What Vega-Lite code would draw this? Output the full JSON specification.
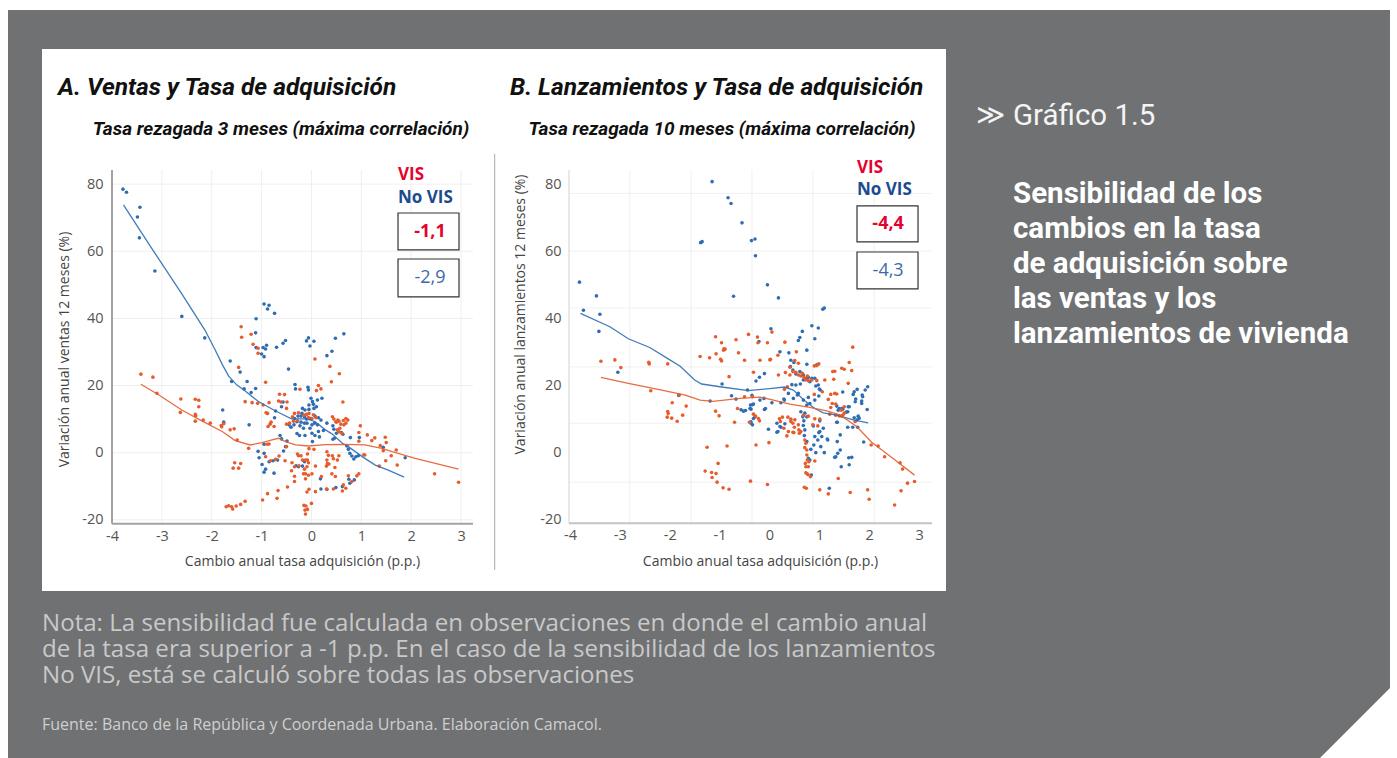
{
 "$schema": "https://vega.github.io/schema/vega-lite/v6.json",
 "background": "#ffffff",
 "padding": {"left": 8, "top": 10, "right": 7, "bottom": 0},
 "autosize": {"type": "pad"},
 "config": {"view": {"stroke": null}, "font": "Roboto"},
 "datasets": {
  "ventas": [
   {"x":-3.78,"y":78.5,"g":"No VIS"},{"x":-3.71,"y":77.6,"g":"No VIS"},{"x":-3.44,"y":73.1,"g":"No VIS"},{"x":-3.49,"y":70.2,"g":"No VIS"},{"x":-3.45,"y":64.0,"g":"No VIS"},{"x":-3.14,"y":54.1,"g":"No VIS"},{"x":-2.60,"y":40.6,"g":"No VIS"},{"x":-2.14,"y":34.2,"g":"No VIS"},{"x":-1.63,"y":27.3,"g":"No VIS"},{"x":-1.43,"y":24.0,"g":"No VIS"},
   {"x":-0.95,"y":44.3,"g":"No VIS"},{"x":-0.85,"y":43.9,"g":"No VIS"},{"x":-0.88,"y":42.8,"g":"No VIS"},{"x":-0.74,"y":41.5,"g":"No VIS"},{"x":-1.11,"y":39.9,"g":"No VIS"},{"x":-1.12,"y":35.7,"g":"No VIS"},{"x":-1.11,"y":31.3,"g":"No VIS"},{"x":-1.00,"y":29.4,"g":"No VIS"},{"x":-0.95,"y":28.6,"g":"No VIS"},{"x":-0.97,"y":31.3,"g":"No VIS"},
   {"x":-0.90,"y":32.0,"g":"No VIS"},{"x":-0.92,"y":30.9,"g":"No VIS"},{"x":-0.70,"y":31.4,"g":"No VIS"},{"x":-0.57,"y":32.6,"g":"No VIS"},{"x":-0.52,"y":33.4,"g":"No VIS"},{"x":-0.46,"y":24.9,"g":"No VIS"},{"x":-0.10,"y":33.3,"g":"No VIS"},{"x":-0.06,"y":34.2,"g":"No VIS"},{"x":0.05,"y":33.2,"g":"No VIS"},{"x":-0.03,"y":31.8,"g":"No VIS"},
   {"x":0.31,"y":28.9,"g":"No VIS"},{"x":0.41,"y":30.2,"g":"No VIS"},{"x":0.48,"y":34.1,"g":"No VIS"},{"x":0.65,"y":35.4,"g":"No VIS"},{"x":-1.60,"y":21.2,"g":"No VIS"},{"x":-1.29,"y":21.2,"g":"No VIS"},{"x":-1.35,"y":19.0,"g":"No VIS"},{"x":-1.21,"y":17.9,"g":"No VIS"},{"x":-1.12,"y":19.1,"g":"No VIS"},{"x":-1.78,"y":12.7,"g":"No VIS"},
   {"x":-1.76,"y":9.1,"g":"No VIS"},{"x":-1.25,"y":8.3,"g":"No VIS"},{"x":-0.33,"y":20.3,"g":"No VIS"},{"x":-0.32,"y":19.0,"g":"No VIS"},{"x":-0.07,"y":19.5,"g":"No VIS"},{"x":-0.06,"y":18.7,"g":"No VIS"},{"x":-0.57,"y":15.1,"g":"No VIS"},{"x":-0.60,"y":13.7,"g":"No VIS"},{"x":-0.72,"y":12.4,"g":"No VIS"},{"x":-0.74,"y":10.4,"g":"No VIS"},
   {"x":-0.01,"y":16.2,"g":"No VIS"},{"x":0.02,"y":15.2,"g":"No VIS"},{"x":-0.05,"y":14.2,"g":"No VIS"},{"x":0.04,"y":14.4,"g":"No VIS"},{"x":0.12,"y":15.7,"g":"No VIS"},{"x":0.21,"y":16.2,"g":"No VIS"},{"x":-0.18,"y":13.2,"g":"No VIS"},{"x":-0.13,"y":12.7,"g":"No VIS"},{"x":-0.05,"y":12.9,"g":"No VIS"},{"x":0.05,"y":13.2,"g":"No VIS"},
   {"x":0.10,"y":13.7,"g":"No VIS"},{"x":-0.19,"y":11.7,"g":"No VIS"},{"x":-0.21,"y":10.9,"g":"No VIS"},{"x":-0.14,"y":10.7,"g":"No VIS"},{"x":-0.10,"y":10.0,"g":"No VIS"},{"x":-0.02,"y":10.2,"g":"No VIS"},{"x":0.07,"y":10.9,"g":"No VIS"},{"x":0.14,"y":10.4,"g":"No VIS"},{"x":0.19,"y":9.7,"g":"No VIS"},{"x":-0.34,"y":10.2,"g":"No VIS"},
   {"x":-0.27,"y":10.9,"g":"No VIS"},{"x":-0.35,"y":8.3,"g":"No VIS"},{"x":-0.29,"y":9.2,"g":"No VIS"},{"x":-0.21,"y":9.1,"g":"No VIS"},{"x":-0.14,"y":8.8,"g":"No VIS"},{"x":-0.09,"y":8.8,"g":"No VIS"},{"x":0.01,"y":8.3,"g":"No VIS"},{"x":0.06,"y":8.8,"g":"No VIS"},{"x":0.12,"y":8.3,"g":"No VIS"},{"x":-0.03,"y":7.3,"g":"No VIS"},
   {"x":-0.16,"y":7.3,"g":"No VIS"},{"x":-0.23,"y":8.0,"g":"No VIS"},{"x":-0.41,"y":7.6,"g":"No VIS"},{"x":-0.13,"y":5.1,"g":"No VIS"},{"x":0.01,"y":5.8,"g":"No VIS"},{"x":0.07,"y":5.1,"g":"No VIS"},{"x":0.14,"y":6.3,"g":"No VIS"},{"x":0.24,"y":6.6,"g":"No VIS"},{"x":-0.24,"y":5.1,"g":"No VIS"},{"x":-0.29,"y":5.7,"g":"No VIS"},
   {"x":0.02,"y":3.3,"g":"No VIS"},{"x":0.16,"y":4.7,"g":"No VIS"},{"x":-0.45,"y":8.3,"g":"No VIS"},{"x":0.31,"y":8.8,"g":"No VIS"},{"x":0.43,"y":8.0,"g":"No VIS"},{"x":0.45,"y":7.0,"g":"No VIS"},{"x":0.50,"y":5.8,"g":"No VIS"},{"x":0.46,"y":4.3,"g":"No VIS"},{"x":0.60,"y":6.0,"g":"No VIS"},{"x":0.63,"y":5.5,"g":"No VIS"},
   {"x":0.78,"y":4.5,"g":"No VIS"},{"x":0.71,"y":2.0,"g":"No VIS"},{"x":0.74,"y":1.0,"g":"No VIS"},{"x":0.77,"y":-0.2,"g":"No VIS"},{"x":0.81,"y":-1.0,"g":"No VIS"},{"x":0.85,"y":-1.9,"g":"No VIS"},{"x":0.89,"y":-1.2,"g":"No VIS"},{"x":0.94,"y":-0.9,"g":"No VIS"},{"x":0.96,"y":4.5,"g":"No VIS"},{"x":1.44,"y":1.6,"g":"No VIS"},
   {"x":1.88,"y":-1.5,"g":"No VIS"},{"x":0.43,"y":4.0,"g":"No VIS"},{"x":0.75,"y":-7.9,"g":"No VIS"},{"x":0.77,"y":-9.1,"g":"No VIS"},{"x":0.86,"y":-8.1,"g":"No VIS"},{"x":0.62,"y":-10.1,"g":"No VIS"},{"x":0.49,"y":-10.4,"g":"No VIS"},{"x":0.31,"y":-10.9,"g":"No VIS"},{"x":0.19,"y":-10.8,"g":"No VIS"},{"x":0.18,"y":-7.8,"g":"No VIS"},
   {"x":-0.63,"y":5.1,"g":"No VIS"},{"x":-0.60,"y":4.1,"g":"No VIS"},{"x":-0.49,"y":3.5,"g":"No VIS"},{"x":-0.52,"y":1.8,"g":"No VIS"},{"x":-0.56,"y":0.5,"g":"No VIS"},{"x":-0.95,"y":2.5,"g":"No VIS"},{"x":-1.07,"y":0.4,"g":"No VIS"},{"x":-0.95,"y":-0.2,"g":"No VIS"},{"x":-1.05,"y":-1.5,"g":"No VIS"},{"x":-0.85,"y":-2.7,"g":"No VIS"},
   {"x":-0.77,"y":-2.4,"g":"No VIS"},{"x":-0.68,"y":-2.2,"g":"No VIS"},{"x":-0.99,"y":-3.5,"g":"No VIS"},{"x":-0.92,"y":-4.9,"g":"No VIS"},{"x":-0.95,"y":-5.8,"g":"No VIS"},{"x":-0.75,"y":-6.1,"g":"No VIS"},{"x":-0.31,"y":-3.9,"g":"No VIS"},{"x":-0.26,"y":-4.2,"g":"No VIS"},{"x":-0.18,"y":-4.0,"g":"No VIS"},{"x":-0.14,"y":-2.7,"g":"No VIS"},
   {"x":-1.41,"y":37.5,"g":"VIS"},{"x":-1.40,"y":34.4,"g":"VIS"},{"x":-1.21,"y":35.3,"g":"VIS"},{"x":-1.17,"y":32.3,"g":"VIS"},{"x":-1.07,"y":29.6,"g":"VIS"},{"x":-1.07,"y":31.1,"g":"VIS"},{"x":-1.46,"y":25.4,"g":"VIS"},{"x":0.07,"y":27.9,"g":"VIS"},{"x":0.37,"y":25.7,"g":"VIS"},{"x":0.56,"y":23.5,"g":"VIS"},
   {"x":-3.42,"y":23.4,"g":"VIS"},{"x":-3.18,"y":22.5,"g":"VIS"},{"x":-3.10,"y":17.7,"g":"VIS"},{"x":-2.62,"y":16.0,"g":"VIS"},{"x":-2.63,"y":12.0,"g":"VIS"},{"x":-2.33,"y":15.9,"g":"VIS"},{"x":-2.26,"y":15.6,"g":"VIS"},{"x":-2.26,"y":13.7,"g":"VIS"},{"x":-2.33,"y":11.4,"g":"VIS"},{"x":-2.32,"y":11.0,"g":"VIS"},
   {"x":-2.33,"y":9.4,"g":"VIS"},{"x":-2.17,"y":9.7,"g":"VIS"},{"x":-2.03,"y":8.8,"g":"VIS"},{"x":-1.81,"y":8.1,"g":"VIS"},{"x":-1.76,"y":8.6,"g":"VIS"},{"x":-1.63,"y":6.8,"g":"VIS"},{"x":-1.55,"y":7.1,"g":"VIS"},{"x":-1.49,"y":3.8,"g":"VIS"},{"x":-1.33,"y":15.2,"g":"VIS"},{"x":-1.19,"y":14.9,"g":"VIS"},
   {"x":-1.08,"y":14.7,"g":"VIS"},{"x":-0.97,"y":14.2,"g":"VIS"},{"x":-0.92,"y":21.0,"g":"VIS"},{"x":-0.85,"y":14.9,"g":"VIS"},{"x":-0.91,"y":11.9,"g":"VIS"},{"x":-0.81,"y":9.1,"g":"VIS"},{"x":-0.83,"y":8.5,"g":"VIS"},{"x":-0.66,"y":15.4,"g":"VIS"},{"x":-0.64,"y":17.4,"g":"VIS"},{"x":-0.54,"y":17.3,"g":"VIS"},
   {"x":-0.49,"y":15.1,"g":"VIS"},{"x":-0.44,"y":8.8,"g":"VIS"},{"x":-1.26,"y":1.3,"g":"VIS"},{"x":-0.89,"y":2.5,"g":"VIS"},{"x":-1.54,"y":-3.0,"g":"VIS"},{"x":-1.57,"y":-4.6,"g":"VIS"},{"x":-1.46,"y":-4.6,"g":"VIS"},{"x":-1.42,"y":-3.2,"g":"VIS"},{"x":-1.71,"y":-16.1,"g":"VIS"},{"x":-1.66,"y":-15.8,"g":"VIS"},
   {"x":-1.60,"y":-16.1,"g":"VIS"},{"x":-1.58,"y":-16.8,"g":"VIS"},{"x":-1.51,"y":-15.9,"g":"VIS"},{"x":-1.42,"y":-15.4,"g":"VIS"},{"x":-1.33,"y":-14.5,"g":"VIS"},{"x":-0.98,"y":-14.1,"g":"VIS"},{"x":-0.88,"y":-12.2,"g":"VIS"},{"x":-0.69,"y":-13.6,"g":"VIS"},{"x":-0.67,"y":-11.3,"g":"VIS"},{"x":-0.48,"y":-10.2,"g":"VIS"},
   {"x":-0.82,"y":-2.4,"g":"VIS"},{"x":-0.72,"y":-2.0,"g":"VIS"},{"x":-0.53,"y":-2.4,"g":"VIS"},{"x":-0.39,"y":-3.0,"g":"VIS"},{"x":-0.34,"y":-4.2,"g":"VIS"},{"x":-0.40,"y":-5.4,"g":"VIS"},{"x":-0.34,"y":-7.0,"g":"VIS"},{"x":-0.34,"y":-8.6,"g":"VIS"},{"x":-0.26,"y":-0.9,"g":"VIS"},{"x":-0.12,"y":-2.2,"g":"VIS"},
   {"x":-0.08,"y":-2.2,"g":"VIS"},{"x":-0.12,"y":-6.3,"g":"VIS"},{"x":-0.06,"y":-6.7,"g":"VIS"},{"x":-0.09,"y":-11.7,"g":"VIS"},{"x":-0.05,"y":-10.9,"g":"VIS"},{"x":-0.15,"y":-15.7,"g":"VIS"},{"x":-0.11,"y":-15.9,"g":"VIS"},{"x":0.00,"y":-15.1,"g":"VIS"},{"x":-0.08,"y":-16.9,"g":"VIS"},{"x":-0.12,"y":-18.3,"g":"VIS"},
   {"x":0.08,"y":-4.0,"g":"VIS"},{"x":0.08,"y":-11.6,"g":"VIS"},{"x":0.20,"y":-7.1,"g":"VIS"},{"x":0.30,"y":-10.8,"g":"VIS"},{"x":0.31,"y":-2.2,"g":"VIS"},{"x":0.32,"y":-3.2,"g":"VIS"},{"x":0.35,"y":-3.4,"g":"VIS"},{"x":0.44,"y":-10.8,"g":"VIS"},{"x":0.47,"y":-4.4,"g":"VIS"},{"x":0.52,"y":-2.2,"g":"VIS"},
   {"x":0.55,"y":-0.9,"g":"VIS"},{"x":0.64,"y":-9.6,"g":"VIS"},{"x":0.74,"y":-6.9,"g":"VIS"},{"x":0.91,"y":-6.9,"g":"VIS"},{"x":0.95,"y":-6.3,"g":"VIS"},{"x":1.05,"y":-0.6,"g":"VIS"},{"x":0.95,"y":3.4,"g":"VIS"},{"x":0.14,"y":20.0,"g":"VIS"},{"x":0.10,"y":18.5,"g":"VIS"},{"x":0.40,"y":21.1,"g":"VIS"},
   {"x":0.63,"y":15.1,"g":"VIS"},{"x":0.50,"y":9.1,"g":"VIS"},{"x":0.53,"y":9.7,"g":"VIS"},{"x":0.69,"y":10.2,"g":"VIS"},{"x":0.73,"y":9.7,"g":"VIS"},{"x":0.98,"y":8.0,"g":"VIS"},{"x":1.12,"y":5.3,"g":"VIS"},{"x":1.21,"y":3.6,"g":"VIS"},{"x":1.48,"y":4.6,"g":"VIS"},{"x":1.50,"y":3.0,"g":"VIS"},
   {"x":1.49,"y":-2.4,"g":"VIS"},{"x":1.60,"y":-0.9,"g":"VIS"},{"x":1.70,"y":0.8,"g":"VIS"},{"x":1.72,"y":-3.7,"g":"VIS"},{"x":1.36,"y":-4.0,"g":"VIS"},{"x":2.47,"y":-6.3,"g":"VIS"},{"x":2.95,"y":-8.8,"g":"VIS"},{"x":-0.61,"y":15.1,"g":"VIS"},{"x":-0.50,"y":13.2,"g":"VIS"},{"x":-0.38,"y":10.7,"g":"VIS"},
   {"x":-0.34,"y":11.7,"g":"VIS"},{"x":-0.26,"y":11.9,"g":"VIS"},{"x":-0.36,"y":9.4,"g":"VIS"},{"x":-0.28,"y":9.5,"g":"VIS"},{"x":-0.23,"y":18.9,"g":"VIS"},{"x":0.19,"y":19.0,"g":"VIS"},{"x":-0.15,"y":11.2,"g":"VIS"},{"x":-0.10,"y":11.4,"g":"VIS"},{"x":-0.05,"y":11.7,"g":"VIS"},{"x":0.01,"y":10.2,"g":"VIS"},
   {"x":-0.06,"y":10.5,"g":"VIS"},{"x":0.04,"y":11.3,"g":"VIS"},{"x":0.09,"y":10.4,"g":"VIS"},{"x":0.42,"y":10.7,"g":"VIS"},{"x":0.45,"y":10.0,"g":"VIS"},{"x":0.49,"y":9.2,"g":"VIS"},{"x":0.55,"y":9.4,"g":"VIS"},{"x":0.64,"y":9.6,"g":"VIS"},{"x":0.59,"y":8.5,"g":"VIS"},{"x":0.65,"y":8.3,"g":"VIS"},
   {"x":0.57,"y":7.3,"g":"VIS"},{"x":0.52,"y":6.8,"g":"VIS"},{"x":0.55,"y":6.2,"g":"VIS"},{"x":0.61,"y":5.8,"g":"VIS"},{"x":0.69,"y":8.8,"g":"VIS"},{"x":0.95,"y":6.0,"g":"VIS"},{"x":1.27,"y":4.4,"g":"VIS"},{"x":1.38,"y":2.1,"g":"VIS"},{"x":1.44,"y":0.6,"g":"VIS"},{"x":1.07,"y":-0.7,"g":"VIS"},
   {"x":0.81,"y":-8.6,"g":"VIS"},{"x":0.69,"y":-10.6,"g":"VIS"},{"x":0.62,"y":-11.4,"g":"VIS"},{"x":0.42,"y":-0.9,"g":"VIS"},{"x":0.44,"y":-1.8,"g":"VIS"},{"x":0.31,"y":0.3,"g":"VIS"},{"x":0.34,"y":-0.8,"g":"VIS"},{"x":0.30,"y":-4.0,"g":"VIS"},{"x":0.41,"y":-6.3,"g":"VIS"},{"x":0.48,"y":-7.1,"g":"VIS"},
   {"x":0.05,"y":1.0,"g":"VIS"},{"x":-0.05,"y":1.2,"g":"VIS"},{"x":-0.08,"y":-0.4,"g":"VIS"},{"x":-0.06,"y":-3.0,"g":"VIS"},{"x":-0.09,"y":-4.2,"g":"VIS"},{"x":-0.18,"y":-2.2,"g":"VIS"},{"x":-0.25,"y":-3.9,"g":"VIS"},{"x":-0.14,"y":-4.9,"g":"VIS"},{"x":-0.28,"y":-0.4,"g":"VIS"},{"x":-0.21,"y":-0.9,"g":"VIS"},
   {"x":-0.16,"y":-6.3,"g":"VIS"},{"x":0.01,"y":-6.3,"g":"VIS"},{"x":-0.12,"y":-7.8,"g":"VIS"},{"x":-0.13,"y":-17.1,"g":"VIS"},{"x":-0.85,"y":2.6,"g":"VIS"},{"x":-1.80,"y":7.7,"g":"VIS"},{"x":-0.88,"y":11.7,"g":"VIS"},{"x":-0.87,"y":7.8,"g":"VIS"},{"x":-0.75,"y":7.8,"g":"VIS"},{"x":-0.50,"y":8.5,"g":"VIS"},
   {"x":-0.92,"y":-1.2,"g":"VIS"},{"x":-0.65,"y":-1.0,"g":"VIS"},{"x":-0.50,"y":1.8,"g":"VIS"}
  ],
  "ventasFit": [
   {"x":-3.77,"y":73.8,"g":"No VIS"},{"x":-3.2,"y":60.8,"g":"No VIS"},{"x":-2.6,"y":47.3,"g":"No VIS"},{"x":-2.14,"y":36.6,"g":"No VIS"},{"x":-1.93,"y":30.6,"g":"No VIS"},{"x":-1.79,"y":26.3,"g":"No VIS"},{"x":-1.66,"y":22.8,"g":"No VIS"},{"x":-1.5,"y":20.2,"g":"No VIS"},{"x":-1.33,"y":18.4,"g":"No VIS"},{"x":-1.07,"y":15.3,"g":"No VIS"},{"x":-0.73,"y":12.5,"g":"No VIS"},{"x":-0.4,"y":10.1,"g":"No VIS"},{"x":-0.1,"y":10.1,"g":"No VIS"},{"x":0.07,"y":9.3,"g":"No VIS"},{"x":0.28,"y":6.8,"g":"No VIS"},{"x":0.41,"y":5.6,"g":"No VIS"},{"x":0.62,"y":2.8,"g":"No VIS"},{"x":0.74,"y":1.8,"g":"No VIS"},{"x":1.04,"y":-1.4,"g":"No VIS"},{"x":1.28,"y":-3.7,"g":"No VIS"},{"x":1.54,"y":-5.2,"g":"No VIS"},{"x":1.86,"y":-7.3,"g":"No VIS"},
   {"x":-3.42,"y":20.4,"g":"VIS"},{"x":-3.06,"y":17.2,"g":"VIS"},{"x":-2.6,"y":12.7,"g":"VIS"},{"x":-2.19,"y":9.4,"g":"VIS"},{"x":-1.79,"y":6.3,"g":"VIS"},{"x":-1.53,"y":3.6,"g":"VIS"},{"x":-1.23,"y":2.3,"g":"VIS"},{"x":-0.99,"y":3.0,"g":"VIS"},{"x":-0.79,"y":3.8,"g":"VIS"},{"x":-0.66,"y":4.3,"g":"VIS"},{"x":-0.52,"y":3.3,"g":"VIS"},{"x":-0.32,"y":2.3,"g":"VIS"},{"x":-0.06,"y":2.0,"g":"VIS"},{"x":0.28,"y":2.4,"g":"VIS"},{"x":0.67,"y":2.5,"g":"VIS"},{"x":1.07,"y":2.3,"g":"VIS"},{"x":1.41,"y":1.3,"g":"VIS"},{"x":1.62,"y":0.3,"g":"VIS"},{"x":2.08,"y":-1.7,"g":"VIS"},{"x":2.95,"y":-4.9,"g":"VIS"}
  ],
  "lanz": [
   {"x":-3.81,"y":50.7,"g":"No VIS"},{"x":-3.73,"y":42.3,"g":"No VIS"},{"x":-3.47,"y":46.6,"g":"No VIS"},{"x":-3.40,"y":41.1,"g":"No VIS"},{"x":-3.42,"y":36.0,"g":"No VIS"},{"x":-3.04,"y":23.8,"g":"No VIS"},{"x":-1.15,"y":80.7,"g":"No VIS"},{"x":-1.38,"y":62.5,"g":"No VIS"},{"x":-1.35,"y":62.8,"g":"No VIS"},{"x":-0.83,"y":75.9,"g":"No VIS"},
   {"x":-0.77,"y":74.2,"g":"No VIS"},{"x":-0.55,"y":68.4,"g":"No VIS"},{"x":-0.36,"y":63.1,"g":"No VIS"},{"x":-0.29,"y":63.6,"g":"No VIS"},{"x":-0.28,"y":58.6,"g":"No VIS"},{"x":-0.72,"y":46.5,"g":"No VIS"},{"x":-0.04,"y":49.9,"g":"No VIS"},{"x":0.18,"y":46.0,"g":"No VIS"},{"x":0.03,"y":36.8,"g":"No VIS"},{"x":-0.21,"y":33.0,"g":"No VIS"},
   {"x":0.21,"y":29.9,"g":"No VIS"},{"x":0.39,"y":29.6,"g":"No VIS"},{"x":0.43,"y":27.4,"g":"No VIS"},{"x":0.49,"y":26.7,"g":"No VIS"},{"x":0.42,"y":25.5,"g":"No VIS"},{"x":0.47,"y":24.5,"g":"No VIS"},{"x":-0.10,"y":23.4,"g":"No VIS"},{"x":-0.20,"y":22.3,"g":"No VIS"},{"x":0.58,"y":33.3,"g":"No VIS"},{"x":0.61,"y":34.2,"g":"No VIS"},
   {"x":0.66,"y":36.0,"g":"No VIS"},{"x":0.75,"y":30.4,"g":"No VIS"},{"x":0.75,"y":26.2,"g":"No VIS"},{"x":0.85,"y":37.7,"g":"No VIS"},{"x":0.91,"y":33.8,"g":"No VIS"},{"x":0.98,"y":37.0,"g":"No VIS"},{"x":1.07,"y":42.6,"g":"No VIS"},{"x":1.10,"y":43.0,"g":"No VIS"},{"x":0.91,"y":22.0,"g":"No VIS"},{"x":-1.82,"y":16.9,"g":"No VIS"},
   {"x":-1.19,"y":15.2,"g":"No VIS"},{"x":-0.95,"y":20.3,"g":"No VIS"},{"x":-0.76,"y":16.8,"g":"No VIS"},{"x":-0.57,"y":12.6,"g":"No VIS"},{"x":-0.52,"y":12.2,"g":"No VIS"},{"x":-0.48,"y":12.4,"g":"No VIS"},{"x":-0.44,"y":18.5,"g":"No VIS"},{"x":-0.35,"y":16.9,"g":"No VIS"},{"x":-0.37,"y":12.8,"g":"No VIS"},{"x":-0.34,"y":14.1,"g":"No VIS"},
   {"x":-0.29,"y":10.5,"g":"No VIS"},{"x":-0.37,"y":8.6,"g":"No VIS"},{"x":-0.11,"y":16.0,"g":"No VIS"},{"x":-0.10,"y":12.7,"g":"No VIS"},{"x":-0.02,"y":6.8,"g":"No VIS"},{"x":0.15,"y":5.9,"g":"No VIS"},{"x":0.21,"y":7.6,"g":"No VIS"},{"x":0.31,"y":8.4,"g":"No VIS"},{"x":0.23,"y":14.7,"g":"No VIS"},{"x":0.30,"y":15.5,"g":"No VIS"},
   {"x":0.53,"y":23.3,"g":"No VIS"},{"x":0.53,"y":20.0,"g":"No VIS"},{"x":0.45,"y":20.1,"g":"No VIS"},{"x":0.62,"y":20.3,"g":"No VIS"},{"x":0.68,"y":21.5,"g":"No VIS"},{"x":0.75,"y":22.0,"g":"No VIS"},{"x":0.81,"y":21.0,"g":"No VIS"},{"x":0.85,"y":22.0,"g":"No VIS"},{"x":0.38,"y":17.5,"g":"No VIS"},{"x":0.48,"y":16.0,"g":"No VIS"},
   {"x":0.58,"y":17.5,"g":"No VIS"},{"x":0.68,"y":15.5,"g":"No VIS"},{"x":0.75,"y":14.0,"g":"No VIS"},{"x":0.71,"y":11.6,"g":"No VIS"},{"x":0.75,"y":10.5,"g":"No VIS"},{"x":0.81,"y":14.5,"g":"No VIS"},{"x":0.99,"y":16.7,"g":"No VIS"},{"x":1.02,"y":18.5,"g":"No VIS"},{"x":0.93,"y":19.7,"g":"No VIS"},{"x":0.91,"y":4.6,"g":"No VIS"},
   {"x":0.97,"y":3.6,"g":"No VIS"},{"x":1.05,"y":4.6,"g":"No VIS"},{"x":0.89,"y":2.1,"g":"No VIS"},{"x":0.83,"y":0.8,"g":"No VIS"},{"x":0.93,"y":-0.2,"g":"No VIS"},{"x":1.10,"y":-0.2,"g":"No VIS"},{"x":1.17,"y":3.6,"g":"No VIS"},{"x":1.08,"y":7.1,"g":"No VIS"},{"x":1.01,"y":6.1,"g":"No VIS"},{"x":0.78,"y":-1.9,"g":"No VIS"},
   {"x":0.81,"y":-2.4,"g":"No VIS"},{"x":0.84,"y":-6.9,"g":"No VIS"},{"x":1.20,"y":-10.8,"g":"No VIS"},{"x":1.31,"y":-1.6,"g":"No VIS"},{"x":1.37,"y":-0.4,"g":"No VIS"},{"x":1.42,"y":0.6,"g":"No VIS"},{"x":1.44,"y":-4.4,"g":"No VIS"},{"x":1.60,"y":-3.8,"g":"No VIS"},{"x":1.65,"y":-1.6,"g":"No VIS"},{"x":1.42,"y":5.1,"g":"No VIS"},
   {"x":1.57,"y":7.4,"g":"No VIS"},{"x":1.35,"y":8.9,"g":"No VIS"},{"x":1.38,"y":12.5,"g":"No VIS"},{"x":1.45,"y":13.0,"g":"No VIS"},{"x":1.47,"y":17.9,"g":"No VIS"},{"x":1.57,"y":12.0,"g":"No VIS"},{"x":1.60,"y":13.5,"g":"No VIS"},{"x":1.72,"y":15.0,"g":"No VIS"},{"x":1.70,"y":18.0,"g":"No VIS"},{"x":1.76,"y":18.7,"g":"No VIS"},
   {"x":1.85,"y":14.5,"g":"No VIS"},{"x":1.80,"y":10.1,"g":"No VIS"},{"x":1.77,"y":7.4,"g":"No VIS"},{"x":1.86,"y":17.0,"g":"No VIS"},{"x":1.92,"y":18.5,"g":"No VIS"},{"x":1.97,"y":19.5,"g":"No VIS"},{"x":1.96,"y":12.7,"g":"No VIS"},{"x":1.89,"y":3.0,"g":"No VIS"},{"x":0.61,"y":24.0,"g":"No VIS"},{"x":0.68,"y":23.0,"g":"No VIS"},
   {"x":0.73,"y":21.7,"g":"No VIS"},{"x":0.78,"y":22.3,"g":"No VIS"},{"x":0.95,"y":26.0,"g":"No VIS"},{"x":0.98,"y":20.0,"g":"No VIS"},{"x":1.00,"y":18.8,"g":"No VIS"},{"x":-0.27,"y":21.2,"g":"No VIS"},{"x":-0.67,"y":15.8,"g":"No VIS"},{"x":-0.39,"y":13.0,"g":"No VIS"},{"x":-0.38,"y":14.0,"g":"No VIS"},{"x":-0.32,"y":14.3,"g":"No VIS"},
   {"x":-0.19,"y":15.5,"g":"No VIS"},{"x":-0.08,"y":13.0,"g":"No VIS"},{"x":0.05,"y":14.7,"g":"No VIS"},{"x":-0.37,"y":9.0,"g":"No VIS"},{"x":-0.32,"y":10.0,"g":"No VIS"},{"x":-0.34,"y":8.1,"g":"No VIS"},{"x":0.15,"y":8.6,"g":"No VIS"},{"x":0.23,"y":7.4,"g":"No VIS"},{"x":0.17,"y":6.1,"g":"No VIS"},{"x":0.29,"y":15.8,"g":"No VIS"},
   {"x":0.56,"y":17.0,"g":"No VIS"},{"x":0.78,"y":16.3,"g":"No VIS"},{"x":0.91,"y":15.5,"g":"No VIS"},{"x":0.63,"y":12.0,"g":"No VIS"},{"x":0.67,"y":10.5,"g":"No VIS"},{"x":0.69,"y":9.3,"g":"No VIS"},{"x":0.88,"y":7.8,"g":"No VIS"},{"x":1.01,"y":9.3,"g":"No VIS"},{"x":0.99,"y":5.8,"g":"No VIS"},{"x":0.71,"y":6.6,"g":"No VIS"},
   {"x":0.68,"y":7.9,"g":"No VIS"},{"x":0.70,"y":4.9,"g":"No VIS"},{"x":0.75,"y":3.1,"g":"No VIS"},{"x":1.03,"y":1.6,"g":"No VIS"},{"x":1.16,"y":3.9,"g":"No VIS"},{"x":1.36,"y":3.1,"g":"No VIS"},{"x":1.33,"y":-1.4,"g":"No VIS"},{"x":1.59,"y":-1.7,"g":"No VIS"},{"x":1.76,"y":9.6,"g":"No VIS"},{"x":1.78,"y":10.7,"g":"No VIS"},
   {"x":1.70,"y":10.2,"g":"No VIS"},{"x":1.67,"y":7.4,"g":"No VIS"},{"x":1.87,"y":16.5,"g":"No VIS"},{"x":1.68,"y":17.2,"g":"No VIS"},{"x":1.73,"y":15.8,"g":"No VIS"},{"x":1.85,"y":15.2,"g":"No VIS"},{"x":1.58,"y":13.5,"g":"No VIS"},{"x":1.47,"y":12.8,"g":"No VIS"},{"x":1.54,"y":11.9,"g":"No VIS"},{"x":1.40,"y":13.0,"g":"No VIS"},
   {"x":1.36,"y":8.9,"g":"No VIS"},{"x":1.35,"y":13.7,"g":"No VIS"},
   {"x":-3.38,"y":27.1,"g":"VIS"},{"x":-3.10,"y":27.5,"g":"VIS"},{"x":-2.98,"y":25.2,"g":"VIS"},{"x":-2.42,"y":26.8,"g":"VIS"},{"x":-2.41,"y":26.3,"g":"VIS"},{"x":-2.04,"y":26.3,"g":"VIS"},{"x":-1.39,"y":28.5,"g":"VIS"},{"x":-1.20,"y":28.1,"g":"VIS"},{"x":-1.08,"y":34.4,"g":"VIS"},{"x":-1.07,"y":29.3,"g":"VIS"},
   {"x":-0.96,"y":32.6,"g":"VIS"},{"x":-0.91,"y":30.8,"g":"VIS"},{"x":-0.92,"y":30.4,"g":"VIS"},{"x":-0.98,"y":27.7,"g":"VIS"},{"x":-0.96,"y":27.2,"g":"VIS"},{"x":-0.67,"y":33.5,"g":"VIS"},{"x":-0.62,"y":29.6,"g":"VIS"},{"x":-0.50,"y":27.4,"g":"VIS"},{"x":-0.42,"y":35.1,"g":"VIS"},{"x":-0.24,"y":34.3,"g":"VIS"},
   {"x":-0.23,"y":32.6,"g":"VIS"},{"x":-0.19,"y":27.4,"g":"VIS"},{"x":-0.04,"y":32.6,"g":"VIS"},{"x":0.02,"y":27.7,"g":"VIS"},{"x":0.05,"y":35.8,"g":"VIS"},{"x":0.17,"y":28.9,"g":"VIS"},{"x":0.31,"y":32.8,"g":"VIS"},{"x":0.51,"y":27.3,"g":"VIS"},{"x":0.54,"y":29.9,"g":"VIS"},{"x":0.58,"y":26.5,"g":"VIS"},
   {"x":-0.32,"y":23.8,"g":"VIS"},{"x":0.18,"y":23.0,"g":"VIS"},{"x":0.90,"y":25.7,"g":"VIS"},{"x":0.95,"y":25.8,"g":"VIS"},{"x":0.99,"y":26.3,"g":"VIS"},{"x":1.27,"y":24.0,"g":"VIS"},{"x":1.31,"y":24.1,"g":"VIS"},{"x":1.45,"y":25.0,"g":"VIS"},{"x":1.50,"y":24.7,"g":"VIS"},{"x":1.60,"y":26.7,"g":"VIS"},
   {"x":1.65,"y":24.3,"g":"VIS"},{"x":1.67,"y":31.3,"g":"VIS"},{"x":-1.95,"y":14.7,"g":"VIS"},{"x":-2.04,"y":12.1,"g":"VIS"},{"x":-2.03,"y":11.5,"g":"VIS"},{"x":-2.05,"y":10.4,"g":"VIS"},{"x":-1.96,"y":10.1,"g":"VIS"},{"x":-1.85,"y":9.2,"g":"VIS"},{"x":-1.74,"y":11.0,"g":"VIS"},{"x":-1.67,"y":13.7,"g":"VIS"},
   {"x":-1.81,"y":17.0,"g":"VIS"},{"x":-2.38,"y":18.3,"g":"VIS"},{"x":-1.25,"y":1.4,"g":"VIS"},{"x":-1.29,"y":-5.7,"g":"VIS"},{"x":-1.16,"y":-6.1,"g":"VIS"},{"x":-1.07,"y":-6.4,"g":"VIS"},{"x":-1.15,"y":-7.6,"g":"VIS"},{"x":-1.05,"y":-9.0,"g":"VIS"},{"x":-1.03,"y":-3.4,"g":"VIS"},{"x":-0.93,"y":-10.7,"g":"VIS"},
   {"x":-0.81,"y":-11.1,"g":"VIS"},{"x":-1.08,"y":12.2,"g":"VIS"},{"x":-1.01,"y":10.8,"g":"VIS"},{"x":-0.85,"y":1.8,"g":"VIS"},{"x":-0.81,"y":22.5,"g":"VIS"},{"x":-0.70,"y":8.9,"g":"VIS"},{"x":-0.64,"y":13.0,"g":"VIS"},{"x":-0.50,"y":16.5,"g":"VIS"},{"x":-0.40,"y":8.9,"g":"VIS"},{"x":-0.32,"y":11.3,"g":"VIS"},
   {"x":-0.28,"y":10.7,"g":"VIS"},{"x":-0.20,"y":9.3,"g":"VIS"},{"x":-0.27,"y":2.1,"g":"VIS"},{"x":-0.38,"y":-8.7,"g":"VIS"},{"x":-0.04,"y":-9.7,"g":"VIS"},{"x":-0.01,"y":2.8,"g":"VIS"},{"x":0.20,"y":9.9,"g":"VIS"},{"x":0.22,"y":9.1,"g":"VIS"},{"x":0.26,"y":10.4,"g":"VIS"},{"x":0.29,"y":7.1,"g":"VIS"},
   {"x":0.38,"y":6.1,"g":"VIS"},{"x":0.47,"y":8.6,"g":"VIS"},{"x":0.49,"y":5.8,"g":"VIS"},{"x":0.59,"y":6.6,"g":"VIS"},{"x":0.63,"y":6.1,"g":"VIS"},{"x":0.71,"y":3.6,"g":"VIS"},{"x":0.73,"y":2.6,"g":"VIS"},{"x":0.75,"y":0.6,"g":"VIS"},{"x":0.75,"y":-0.9,"g":"VIS"},{"x":0.76,"y":-2.4,"g":"VIS"},
   {"x":0.73,"y":-4.4,"g":"VIS"},{"x":0.78,"y":-4.4,"g":"VIS"},{"x":0.75,"y":-6.4,"g":"VIS"},{"x":0.70,"y":-10.5,"g":"VIS"},{"x":0.74,"y":-10.8,"g":"VIS"},{"x":0.82,"y":-7.4,"g":"VIS"},{"x":0.91,"y":-2.7,"g":"VIS"},{"x":1.01,"y":-11.3,"g":"VIS"},{"x":1.18,"y":-12.5,"g":"VIS"},{"x":1.38,"y":-7.9,"g":"VIS"},
   {"x":1.45,"y":10.7,"g":"VIS"},{"x":1.50,"y":11.6,"g":"VIS"},{"x":1.44,"y":12.5,"g":"VIS"},{"x":1.62,"y":-12.1,"g":"VIS"},{"x":1.72,"y":9.1,"g":"VIS"},{"x":1.97,"y":-11.3,"g":"VIS"},{"x":2.00,"y":-14.1,"g":"VIS"},{"x":2.04,"y":2.1,"g":"VIS"},{"x":2.18,"y":1.8,"g":"VIS"},{"x":2.31,"y":-1.4,"g":"VIS"},
   {"x":2.51,"y":-15.8,"g":"VIS"},{"x":2.62,"y":-3.2,"g":"VIS"},{"x":2.67,"y":-5.1,"g":"VIS"},{"x":2.64,"y":-11.6,"g":"VIS"},{"x":2.77,"y":-9.3,"g":"VIS"},{"x":2.91,"y":-8.8,"g":"VIS"},{"x":0.87,"y":8.1,"g":"VIS"},{"x":0.97,"y":7.8,"g":"VIS"},{"x":1.01,"y":9.8,"g":"VIS"},{"x":1.21,"y":11.3,"g":"VIS"},
   {"x":1.33,"y":11.0,"g":"VIS"},{"x":1.18,"y":15.7,"g":"VIS"},{"x":1.26,"y":14.5,"g":"VIS"},{"x":1.31,"y":17.5,"g":"VIS"},{"x":0.90,"y":17.2,"g":"VIS"},{"x":1.06,"y":18.0,"g":"VIS"},{"x":1.58,"y":20.5,"g":"VIS"},{"x":0.53,"y":23.8,"g":"VIS"},{"x":0.41,"y":25.3,"g":"VIS"},{"x":0.47,"y":24.0,"g":"VIS"},
   {"x":0.41,"y":23.0,"g":"VIS"},{"x":0.58,"y":23.0,"g":"VIS"},{"x":0.63,"y":22.7,"g":"VIS"},{"x":0.69,"y":22.3,"g":"VIS"},{"x":0.73,"y":21.5,"g":"VIS"},{"x":0.78,"y":21.3,"g":"VIS"},{"x":0.85,"y":21.5,"g":"VIS"},{"x":0.95,"y":21.3,"g":"VIS"},{"x":0.76,"y":22.7,"g":"VIS"},{"x":0.66,"y":23.5,"g":"VIS"},
   {"x":1.11,"y":21.5,"g":"VIS"},{"x":1.29,"y":21.7,"g":"VIS"},{"x":0.32,"y":23.7,"g":"VIS"},{"x":0.36,"y":19.5,"g":"VIS"},{"x":0.30,"y":18.7,"g":"VIS"},{"x":0.01,"y":27.5,"g":"VIS"},{"x":-0.89,"y":30.7,"g":"VIS"},{"x":-0.34,"y":16.5,"g":"VIS"},{"x":-0.22,"y":10.0,"g":"VIS"},{"x":0.37,"y":10.4,"g":"VIS"},
   {"x":0.43,"y":9.8,"g":"VIS"},{"x":0.43,"y":9.1,"g":"VIS"},{"x":0.51,"y":9.6,"g":"VIS"},{"x":0.58,"y":8.1,"g":"VIS"},{"x":0.50,"y":7.4,"g":"VIS"},{"x":0.35,"y":4.8,"g":"VIS"},{"x":0.60,"y":5.6,"g":"VIS"},{"x":0.47,"y":5.9,"g":"VIS"},{"x":0.68,"y":11.0,"g":"VIS"},{"x":0.78,"y":10.7,"g":"VIS"},
   {"x":0.91,"y":9.9,"g":"VIS"},{"x":0.71,"y":1.3,"g":"VIS"},{"x":0.79,"y":-2.9,"g":"VIS"},{"x":0.72,"y":-3.4,"g":"VIS"},{"x":0.73,"y":-6.2,"g":"VIS"},{"x":0.77,"y":-6.7,"g":"VIS"},{"x":1.23,"y":13.3,"g":"VIS"},{"x":1.33,"y":14.3,"g":"VIS"},{"x":1.40,"y":10.8,"g":"VIS"},{"x":1.47,"y":11.0,"g":"VIS"},
   {"x":1.50,"y":13.5,"g":"VIS"},{"x":1.23,"y":17.2,"g":"VIS"},{"x":1.35,"y":17.3,"g":"VIS"}
  ],
  "lanzFit": [
   {"x":-3.79,"y":41.4,"g":"No VIS"},{"x":-3.2,"y":37.4,"g":"No VIS"},{"x":-2.83,"y":33.8,"g":"No VIS"},{"x":-2.4,"y":31.2,"g":"No VIS"},{"x":-2.03,"y":27.8,"g":"No VIS"},{"x":-1.79,"y":25.6,"g":"No VIS"},{"x":-1.5,"y":21.5,"g":"No VIS"},{"x":-1.36,"y":20.3,"g":"No VIS"},{"x":-0.96,"y":19.4,"g":"No VIS"},{"x":-0.42,"y":18.3,"g":"No VIS"},{"x":0.05,"y":19.0,"g":"No VIS"},{"x":0.3,"y":19.4,"g":"No VIS"},{"x":0.48,"y":18.5,"g":"No VIS"},{"x":0.69,"y":15.5,"g":"No VIS"},{"x":0.91,"y":13.0,"g":"No VIS"},{"x":1.08,"y":11.7,"g":"No VIS"},{"x":1.35,"y":11.0,"g":"No VIS"},{"x":1.68,"y":9.6,"g":"No VIS"},{"x":1.98,"y":8.7,"g":"No VIS"},
   {"x":-3.38,"y":22.3,"g":"VIS"},{"x":-2.83,"y":20.5,"g":"VIS"},{"x":-2.16,"y":18.5,"g":"VIS"},{"x":-1.69,"y":17.0,"g":"VIS"},{"x":-1.39,"y":15.5,"g":"VIS"},{"x":-1.13,"y":15.1,"g":"VIS"},{"x":-0.59,"y":16.0,"g":"VIS"},{"x":-0.19,"y":16.4,"g":"VIS"},{"x":0.08,"y":15.5,"g":"VIS"},{"x":0.41,"y":14.3,"g":"VIS"},{"x":0.81,"y":13.3,"g":"VIS"},{"x":1.15,"y":12.3,"g":"VIS"},{"x":1.42,"y":11.0,"g":"VIS"},{"x":1.75,"y":7.6,"g":"VIS"},{"x":2.05,"y":2.9,"g":"VIS"},{"x":2.52,"y":-2.4,"g":"VIS"},{"x":2.91,"y":-6.9,"g":"VIS"}
  ]
 },
 "columns": 5,
 "spacing": 0,
 "bounds": "flush",
 "align": "each",
 "concat": [
  {"width": 34, "height": 39, "view": {"fill": "#707173", "stroke": null}, "data": {"values": [{}]}, "mark": {"type": "text", "text": ""}},
  {"width": 452, "height": 39, "view": {"fill": "#707173", "stroke": null}, "data": {"values": [{}]}, "mark": {"type": "text", "text": ""}},
  {"width": 452, "height": 39, "view": {"fill": "#707173", "stroke": null}, "data": {"values": [{}]}, "mark": {"type": "text", "text": ""}},
  {"width": 67, "height": 39, "view": {"fill": "#707173", "stroke": null}, "data": {"values": [{}]}, "mark": {"type": "text", "text": ""}},
  {"width": 377, "height": 39, "view": {"fill": "#707173", "stroke": null}, "data": {"values": [{}]}, "mark": {"type": "text", "text": ""}},

  {"width": 34, "height": 542, "view": {"fill": "#707173", "stroke": null}, "data": {"values": [{}]}, "mark": {"type": "text", "text": ""}},
  {
   "width": 452, "height": 542,
   "view": {"fill": "#ffffff", "stroke": null},
   "title": {"text": "A. Ventas y Tasa de adquisición", "anchor": "start", "frame": "group", "offset": 0, "dx": 16, "dy": 51.5, "font": "Roboto", "fontSize": 24.5, "fontStyle": "italic", "fontWeight": "bold", "color": "#111111"},
   "layer": [
    {"data": {"values": [{"v":-3},{"v":-2},{"v":-1},{"v":0},{"v":1},{"v":2},{"v":3}]}, "mark": {"type": "rule", "color": "#efefef", "strokeWidth": 1}, "encoding": {"x": {"field": "v", "type": "quantitative"}, "y": {"datum": -21.2}, "y2": {"datum": 84.2}}},
    {"data": {"values": [{"v":-20},{"v":0},{"v":20},{"v":40},{"v":60},{"v":80}]}, "mark": {"type": "rule", "color": "#efefef", "strokeWidth": 1}, "encoding": {"y": {"field": "v", "type": "quantitative"}, "x": {"datum": -4}, "x2": {"datum": 3.24}}},
    {"data": {"values": [{}]}, "mark": {"type": "rule", "color": "#a3a3a3", "strokeWidth": 2}, "encoding": {"x": {"datum": -4}, "x2": {"datum": 3.24}, "y": {"datum": -21.2}}},
    {"data": {"values": [{}]}, "mark": {"type": "rule", "color": "#a3a3a3", "strokeWidth": 2}, "encoding": {"x": {"datum": -4}, "y": {"datum": -21.2}, "y2": {"datum": 84.2}}},
    {
     "data": {"name": "ventas"},
     "mark": {"type": "circle", "size": 13, "opacity": 1},
     "encoding": {
      "x": {"field": "x", "type": "quantitative", "scale": {"domain": [-5.404, 3.661], "nice": false, "zero": false},
            "axis": {"values": [-4,-3,-2,-1,0,1,2,3], "offset": -67, "domain": false, "ticks": false, "tickSize": 0, "grid": false, "labelPadding": 5, "labelFont": "Open Sans", "labelFontSize": 14.5, "labelColor": "#555555", "labelFlush": false, "labelExpr": "'' + datum.value",
                     "title": "Cambio anual tasa adquisición (p.p.)", "titleFont": "Open Sans", "titleFontSize": 14, "titleFontWeight": "normal", "titleColor": "#444444", "titleX": 260, "titleY": 37, "titleBaseline": "middle", "titleAlign": "center"}},
      "y": {"field": "y", "type": "quantitative", "scale": {"domain": [-41.2, 120.25], "nice": false, "zero": false},
            "axis": {"values": [-20,0,20,40,60,80], "offset": -70, "domain": false, "ticks": false, "tickSize": 0, "grid": false, "labelPadding": 9, "labelFont": "Open Sans", "labelFontSize": 14.5, "labelColor": "#555555", "labelExpr": "'' + datum.value",
                     "title": "Variación anual ventas 12 meses (%)", "titleFont": "Open Sans", "titleFontSize": 14, "titleFontWeight": "normal", "titleColor": "#444444", "titleX": -48, "titleY": 300, "titleBaseline": "middle", "titleAlign": "center", "titleAngle": 270}},
      "color": {"field": "g", "type": "nominal", "scale": {"domain": ["VIS", "No VIS"], "range": ["#e65c2d", "#2f6db3"]}, "legend": null}
     }
    },
    {"data": {"name": "ventasFit"}, "mark": {"type": "line", "strokeWidth": 1.3, "opacity": 0.9}, "encoding": {"x": {"field": "x", "type": "quantitative"}, "y": {"field": "y", "type": "quantitative"}, "color": {"field": "g", "type": "nominal", "legend": null}}},
    {"data": {"values": [{}]}, "mark": {"type": "text", "text": "Tasa rezagada 3 meses (máxima correlación)", "font": "Roboto", "fontSize": 19, "fontStyle": "italic", "fontWeight": "bold", "color": "#111111", "align": "center", "baseline": "middle"}, "encoding": {"x": {"datum": -0.61}, "y": {"datum": 96.4}}},
    {"data": {"values": [{}]}, "mark": {"type": "text", "text": "VIS", "font": "Open Sans", "fontSize": 17, "fontWeight": "bold", "color": "#e4032e", "align": "left", "baseline": "middle"}, "encoding": {"x": {"datum": 1.736}, "y": {"datum": 82.6}}},
    {"data": {"values": [{}]}, "mark": {"type": "text", "text": "No VIS", "font": "Open Sans", "fontSize": 17, "fontWeight": "bold", "color": "#1c4b8e", "align": "left", "baseline": "middle"}, "encoding": {"x": {"datum": 1.736}, "y": {"datum": 76.0}}},
    {"data": {"values": [{}]}, "mark": {"type": "rect", "fill": "#ffffff", "stroke": "#333333", "strokeWidth": 1.2}, "encoding": {"x": {"datum": 1.736}, "x2": {"datum": 2.959}, "y": {"datum": 71.4}, "y2": {"datum": 60.4}}},
    {"data": {"values": [{}]}, "mark": {"type": "rect", "fill": "#ffffff", "stroke": "#333333", "strokeWidth": 1.2}, "encoding": {"x": {"datum": 1.736}, "x2": {"datum": 2.959}, "y": {"datum": 57.7}, "y2": {"datum": 46.4}}},
    {"data": {"values": [{}]}, "mark": {"type": "text", "text": "-1,1", "font": "Open Sans", "fontSize": 18, "fontWeight": "bold", "color": "#e4032e", "align": "center", "baseline": "middle"}, "encoding": {"x": {"datum": 2.378}, "y": {"datum": 65.7}}},
    {"data": {"values": [{}]}, "mark": {"type": "text", "text": "-2,9", "font": "Open Sans", "fontSize": 18, "fontWeight": "normal", "color": "#3d69a9", "align": "center", "baseline": "middle"}, "encoding": {"x": {"datum": 2.378}, "y": {"datum": 52.0}}}
   ]
  },
  {
   "width": 452, "height": 542,
   "view": {"fill": "#ffffff", "stroke": null},
   "title": {"text": "B. Lanzamientos y Tasa de adquisición", "anchor": "start", "frame": "group", "offset": 0, "dx": 16, "dy": 51.5, "font": "Roboto", "fontSize": 24.5, "fontStyle": "italic", "fontWeight": "bold", "color": "#111111"},
   "layer": [
    {"data": {"values": [{"v":-2.80},{"v":-1.57},{"v":-0.35},{"v":0.87},{"v":2.10}]}, "mark": {"type": "rule", "color": "#f0f0f0", "strokeWidth": 1}, "encoding": {"x": {"field": "v", "type": "quantitative"}, "y": {"datum": -21.3}, "y2": {"datum": 84.2}}},
    {"data": {"values": [{"v":77.2},{"v":60.0},{"v":43.0},{"v":25.4},{"v":8.6},{"v":-9.0}]}, "mark": {"type": "rule", "color": "#f0f0f0", "strokeWidth": 1}, "encoding": {"y": {"field": "v", "type": "quantitative"}, "x": {"datum": -4.02}, "x2": {"datum": 3.26}}},
    {"data": {"values": [{}]}, "mark": {"type": "rule", "color": "#a8a8a8", "strokeWidth": 1}, "encoding": {"x": {"datum": -5.51}, "y": {"datum": 89.0}, "y2": {"datum": -35.2}}},
    {"data": {"values": [{}]}, "mark": {"type": "rule", "color": "#c4c4c4", "strokeWidth": 2}, "encoding": {"x": {"datum": -4.02}, "x2": {"datum": 3.26}, "y": {"datum": -21.3}}},
    {"data": {"values": [{}]}, "mark": {"type": "rule", "color": "#d2d2d2", "strokeWidth": 1}, "encoding": {"x": {"datum": -4.02}, "y": {"datum": -21.3}, "y2": {"datum": 84.2}}},
    {
     "data": {"name": "lanz"},
     "mark": {"type": "circle", "size": 13, "opacity": 1},
     "encoding": {
      "x": {"field": "x", "type": "quantitative", "scale": {"domain": [-5.524, 3.541], "nice": false, "zero": false},
            "axis": {"values": [-4,-3,-2,-1,0,1,2,3], "offset": -68, "domain": false, "ticks": false, "tickSize": 0, "grid": false, "labelPadding": 5, "labelFont": "Open Sans", "labelFontSize": 14.5, "labelColor": "#555555", "labelFlush": false, "labelExpr": "'' + datum.value",
                     "title": "Cambio anual tasa adquisición (p.p.)", "titleFont": "Open Sans", "titleFontSize": 14, "titleFontWeight": "normal", "titleColor": "#444444", "titleX": 266, "titleY": 38, "titleBaseline": "middle", "titleAlign": "center"}},
      "y": {"field": "y", "type": "quantitative", "scale": {"domain": [-41.49, 120.3], "nice": false, "zero": false},
            "axis": {"values": [-20,0,20,40,60,80], "offset": -75, "domain": false, "ticks": false, "tickSize": 0, "grid": false, "labelPadding": 8, "labelFont": "Open Sans", "labelFontSize": 14.5, "labelColor": "#555555", "labelExpr": "'' + datum.value",
                     "title": "Variación anual lanzamientos 12 meses (%)", "titleFont": "Open Sans", "titleFontSize": 14, "titleFontWeight": "normal", "titleColor": "#444444", "titleX": -49, "titleY": 265, "titleBaseline": "middle", "titleAlign": "center", "titleAngle": 270}},
      "color": {"field": "g", "type": "nominal", "scale": {"domain": ["VIS", "No VIS"], "range": ["#e65c2d", "#2f6db3"]}, "legend": null}
     }
    },
    {"data": {"name": "lanzFit"}, "mark": {"type": "line", "strokeWidth": 1.3, "opacity": 0.9}, "encoding": {"x": {"field": "x", "type": "quantitative"}, "y": {"field": "y", "type": "quantitative"}, "color": {"field": "g", "type": "nominal", "legend": null}}},
    {"data": {"values": [{}]}, "mark": {"type": "text", "text": "Tasa rezagada 10 meses (máxima correlación)", "font": "Roboto", "fontSize": 19, "fontStyle": "italic", "fontWeight": "bold", "color": "#111111", "align": "center", "baseline": "middle"}, "encoding": {"x": {"datum": -0.95}, "y": {"datum": 96.4}}},
    {"data": {"values": [{}]}, "mark": {"type": "text", "text": "VIS", "font": "Open Sans", "fontSize": 17, "fontWeight": "bold", "color": "#e4032e", "align": "left", "baseline": "middle"}, "encoding": {"x": {"datum": 1.756}, "y": {"datum": 84.9}}},
    {"data": {"values": [{}]}, "mark": {"type": "text", "text": "No VIS", "font": "Open Sans", "fontSize": 17, "fontWeight": "bold", "color": "#1c4b8e", "align": "left", "baseline": "middle"}, "encoding": {"x": {"datum": 1.756}, "y": {"datum": 78.1}}},
    {"data": {"values": [{}]}, "mark": {"type": "rect", "fill": "#ffffff", "stroke": "#333333", "strokeWidth": 1.2}, "encoding": {"x": {"datum": 1.756}, "x2": {"datum": 2.98}, "y": {"datum": 73.5}, "y2": {"datum": 62.7}}},
    {"data": {"values": [{}]}, "mark": {"type": "rect", "fill": "#ffffff", "stroke": "#333333", "strokeWidth": 1.2}, "encoding": {"x": {"datum": 1.756}, "x2": {"datum": 2.98}, "y": {"datum": 59.7}, "y2": {"datum": 48.7}}},
    {"data": {"values": [{}]}, "mark": {"type": "text", "text": "-4,4", "font": "Open Sans", "fontSize": 18, "fontWeight": "bold", "color": "#e4032e", "align": "center", "baseline": "middle"}, "encoding": {"x": {"datum": 2.38}, "y": {"datum": 68.1}}},
    {"data": {"values": [{}]}, "mark": {"type": "text", "text": "-4,3", "font": "Open Sans", "fontSize": 18, "fontWeight": "normal", "color": "#3d69a9", "align": "center", "baseline": "middle"}, "encoding": {"x": {"datum": 2.38}, "y": {"datum": 54.0}}}
   ]
  },
  {"width": 67, "height": 542, "view": {"fill": "#707173", "stroke": null},
   "title": {"text": "≫", "anchor": "start", "frame": "group", "offset": 0, "dx": 30, "dy": 81, "font": "DejaVu Sans", "fontSize": 28, "fontWeight": "normal", "color": "#f4f4f4"},
   "data": {"values": [{}]}, "mark": {"type": "text", "text": ""}},
  {"width": 377, "height": 542, "view": {"fill": "#707173", "stroke": null},
   "title": {"text": "Gráfico 1.5", "subtitle": ["Sensibilidad de los", "cambios en la tasa", "de adquisición sobre", "las ventas y los", "lanzamientos de vivienda"],
             "anchor": "start", "frame": "group", "offset": 0, "dx": 0, "dy": 300.5, "font": "Roboto", "fontSize": 29.5, "fontWeight": "normal", "color": "#f4f4f4",
             "subtitleFont": "Roboto", "subtitleFontSize": 29.5, "subtitleFontWeight": "bold", "subtitleColor": "#ffffff", "subtitleLineHeight": 35, "subtitlePadding": 49},
   "data": {"values": [{}]}, "mark": {"type": "text", "text": ""}},

  {"width": 34, "height": 167, "view": {"fill": "#707173", "stroke": null}, "data": {"values": [{}]}, "mark": {"type": "text", "text": ""}},
  {"width": 452, "height": 167, "view": {"fill": "#707173", "stroke": null}, "data": {"values": [{}]}, "mark": {"type": "text", "text": ""}},
  {"width": 452, "height": 167, "view": {"fill": "#707173", "stroke": null},
   "title": {"text": ["Nota: La sensibilidad fue calculada en observaciones en donde el cambio anual", "de la tasa era superior a -1 p.p. En el caso de la sensibilidad de los lanzamientos", "No VIS, está se calculó sobre todas las observaciones"],
             "subtitle": "Fuente: Banco de la República y Coordenada Urbana. Elaboración Camacol.",
             "anchor": "start", "frame": "group", "offset": 0, "dx": -452, "dy": 141.8, "font": "Open Sans", "fontSize": 24.1, "fontWeight": "normal", "color": "#c9c9c9", "lineHeight": 26,
             "subtitleFont": "Open Sans", "subtitleFontSize": 16, "subtitleColor": "#cfcfcf", "subtitlePadding": 29.2},
   "data": {"values": [{}]}, "mark": {"type": "text", "text": ""}},
  {"width": 67, "height": 167, "view": {"fill": "#707173", "stroke": null}, "data": {"values": [{}]}, "mark": {"type": "text", "text": ""}},
  {"width": 377, "height": 167, "view": {"fill": "#707173", "stroke": null},
   "data": {"values": [{}]},
   "mark": {"type": "point", "shape": "M0,0L0,-2L-2,0Z", "size": 4900, "filled": true, "color": "#ffffff", "opacity": 1, "strokeWidth": 0},
   "encoding": {"x": {"value": "width"}, "y": {"value": "height"}}}
 ]
}
